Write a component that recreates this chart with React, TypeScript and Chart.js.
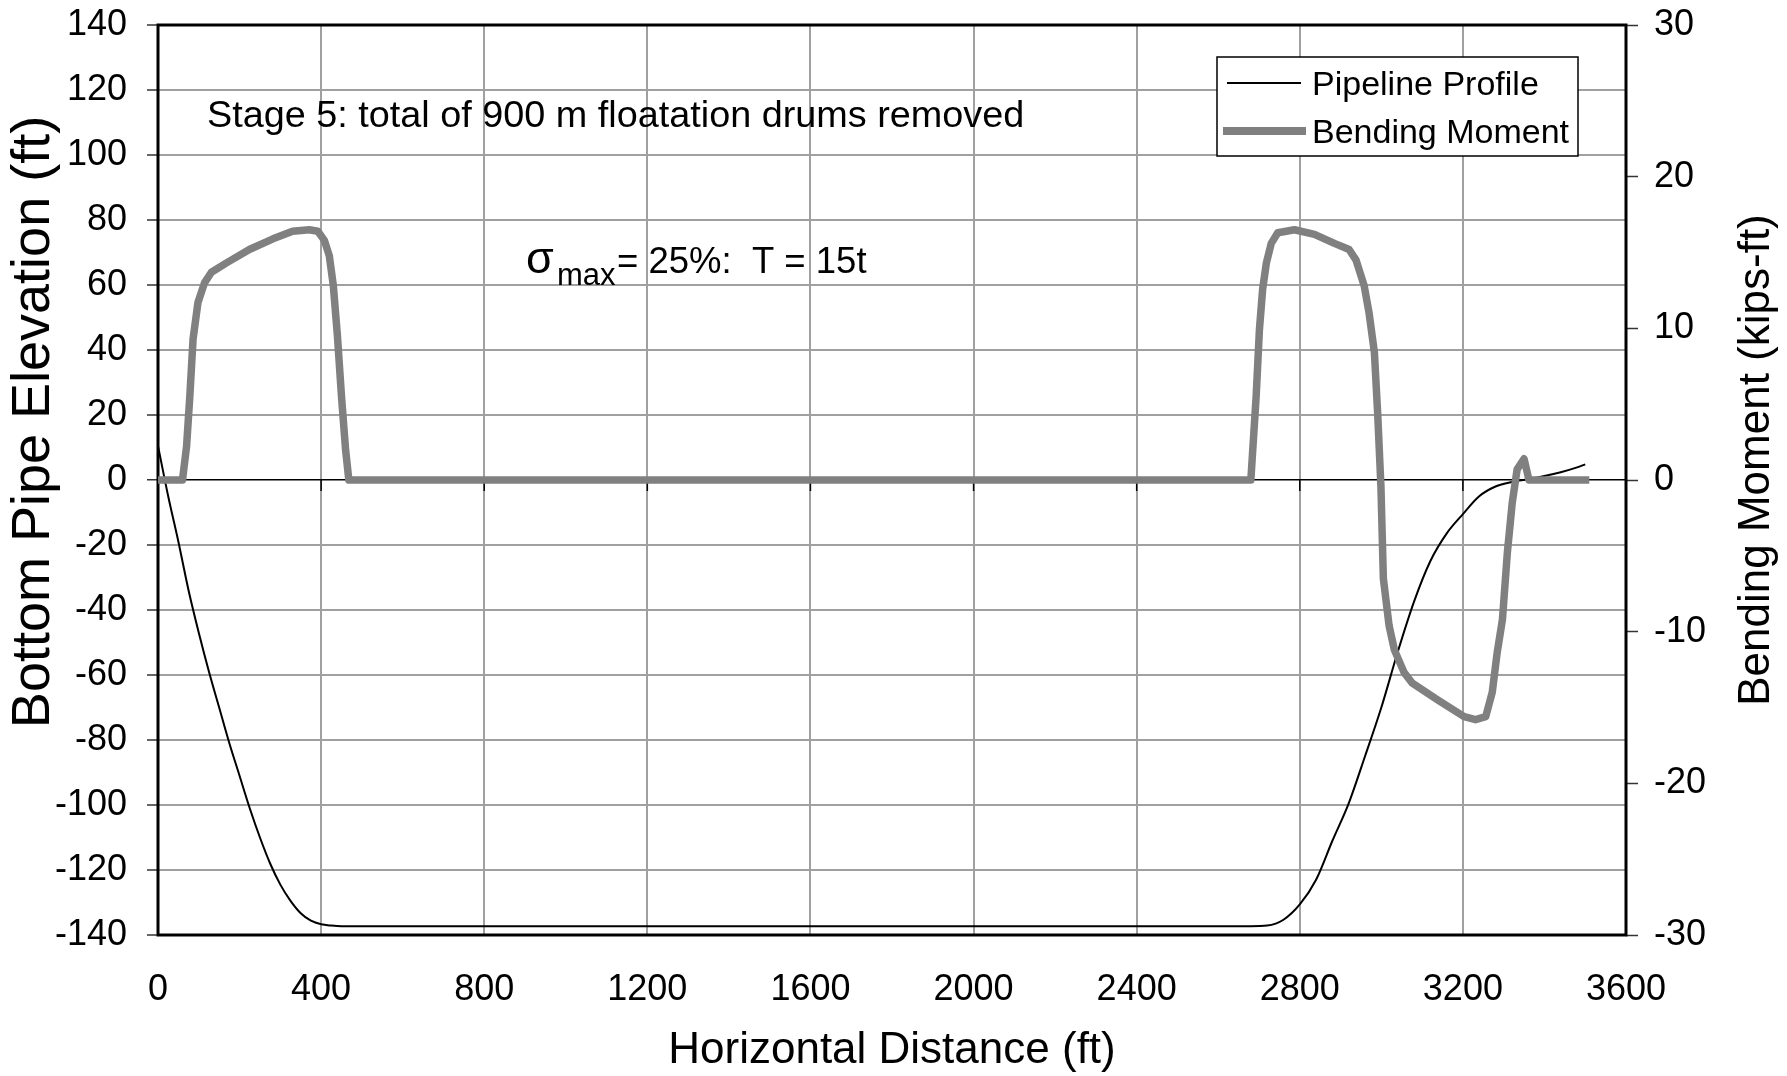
import React, { useEffect, useRef } from "react";
import { Chart, registerables } from "chart.js";

Chart.register(...registerables);

// ---- Data ----
const profileX = [0, 25, 50, 75, 100, 125, 150, 175, 200, 225, 250, 275, 300, 325, 350, 375, 400, 425, 450,
  2680, 2720, 2760, 2800, 2840, 2880, 2920, 2960, 3000, 3040, 3080, 3120, 3160, 3200, 3240, 3280, 3320, 3360, 3400, 3440, 3480, 3500];
const profileY = [10.5, -5, -19, -34, -47, -59, -70, -81, -91, -101, -110, -118, -124.5, -129.5, -133.3, -135.6, -136.7, -137.1, -137.3,
  -137.3, -137.1, -135.3, -130.6, -123, -111, -99.5, -85, -70, -53, -37.5, -25, -16.5, -10.5, -5, -2.0, -0.6, 0.2, 1.2, 2.4, 3.9, 4.8];

const momentX = [0, 60, 70, 78, 86, 98, 114, 131, 167, 224, 282, 330, 371, 392, 408, 420, 430, 440, 450, 460,
  468, 2680, 2693, 2701, 2709, 2718, 2730, 2746, 2787, 2836, 2885, 2921, 2938, 2958, 2970, 2983, 2991, 2999, 3005, 3019,
  3032, 3056, 3076, 3138, 3203, 3231, 3256, 3272, 3284, 3297, 3309, 3321, 3333, 3350, 3362, 3510];
const momentY = [0, 0, 2.2, 5.5, 9.3, 11.7, 13.0, 13.7, 14.3, 15.2, 15.9, 16.4, 16.5, 16.4, 15.8, 14.8, 12.8, 9.5, 5.5, 2,
  0, 0, 5.5, 9.9, 12.6, 14.3, 15.6, 16.3, 16.5, 16.2, 15.6, 15.2, 14.5, 12.8, 11.0, 8.4, 4.4, -0.4, -6.5, -9.6,
  -11.2, -12.7, -13.4, -14.5, -15.6, -15.8, -15.6, -14.0, -11.4, -9.2, -4.8, -1.5, 0.7, 1.4, 0, 0];

const xTickValues = [0, 400, 800, 1200, 1600, 2000, 2400, 2800, 3200, 3600];

const seriesNames = ["Pipeline Profile", "Bending Moment"];
const xTitle = "Horizontal Distance (ft)";
const yTitle = "Bottom Pipe Elevation (ft)";
const y1Title = "Bending Moment (kips-ft)";
const stageNote = "Stage 5: total of 900 m floatation drums removed";

const FONT = "'Liberation Sans', Arial, Helvetica, sans-serif";

export default function App() {
  const ref = useRef<HTMLCanvasElement | null>(null);

  useEffect(() => {
    document.body.style.margin = "0";
    const canvas = ref.current;
    if (!canvas) return;

    const overlay = {
      id: "overlay",
      beforeDatasetsDraw(chart: any) {
        const { ctx, chartArea: a, scales } = chart;
        ctx.save();
        const y0 = scales.y.getPixelForValue(0);
        ctx.strokeStyle = "#000";
        ctx.lineWidth = 1.5;
        for (const v of xTickValues) {
          if (v === 0 || v === 3600) continue;
          const x = scales.x.getPixelForValue(v);
          ctx.beginPath();
          ctx.moveTo(x, y0);
          ctx.lineTo(x, y0 + 11);
          ctx.stroke();
        }
        ctx.lineWidth = 3;
        ctx.strokeRect(a.left, a.top, a.right - a.left, a.bottom - a.top);
        ctx.restore();
      },
      afterDraw(chart: any) {
        const { ctx } = chart;
        const ds = chart.data.datasets;
        ctx.save();
        // legend
        ctx.fillStyle = "#fff";
        ctx.fillRect(1217, 57, 361, 99);
        ctx.strokeStyle = "#000";
        ctx.lineWidth = 1.5;
        ctx.strokeRect(1217, 57, 361, 99);
        ctx.lineCap = "butt";
        ctx.strokeStyle = ds[1].borderColor;
        ctx.lineWidth = ds[1].borderWidth;
        ctx.beginPath();
        ctx.moveTo(1227, 83);
        ctx.lineTo(1301, 83);
        ctx.stroke();
        ctx.strokeStyle = ds[0].borderColor;
        ctx.lineWidth = 8;
        ctx.beginPath();
        ctx.moveTo(1223, 131);
        ctx.lineTo(1306, 131);
        ctx.stroke();
        ctx.fillStyle = "#000";
        ctx.font = `34px ${FONT}`;
        ctx.textAlign = "left";
        ctx.textBaseline = "alphabetic";
        ctx.fillText(ds[1].label, 1312, 95);
        ctx.fillText(ds[0].label, 1312, 143);

        // annotations
        ctx.font = `37.8px ${FONT}`;
        ctx.fillText(stageNote, 207, 127);
        ctx.font = `45px ${FONT}`;
        ctx.fillText("σ", 526, 273);
        ctx.font = `31px ${FONT}`;
        ctx.fillText("max", 557, 285);
        ctx.font = `36.5px ${FONT}`;
        ctx.fillText("= 25%:  T = 15t", 617, 273);

        // axis titles
        ctx.textAlign = "center";
        ctx.textBaseline = "middle";
        ctx.font = `44px ${FONT}`;
        ctx.fillText(xTitle, 892, 1051);
        ctx.save();
        ctx.translate(1757, 460);
        ctx.rotate(-Math.PI / 2);
        ctx.fillText(y1Title, 0, 0);
        ctx.restore();
        ctx.save();
        ctx.font = `54px ${FONT}`;
        ctx.translate(34, 422);
        ctx.rotate(-Math.PI / 2);
        ctx.fillText(yTitle, 0, 0);
        ctx.restore();
        ctx.restore();
      },
    };

    const plainTick = (v: any) => String(v);

    const chart = new Chart(canvas, {
      type: "line",
      data: {
        datasets: [
          {
            label: seriesNames[1],
            data: momentX.map((x, i) => ({ x, y: momentY[i] })),
            yAxisID: "y1",
            borderColor: "#808080",
            backgroundColor: "#808080",
            borderWidth: 7.5,
            borderJoinStyle: "round",
            pointRadius: 0,
            tension: 0,
            fill: false,
            order: 0,
          },
          {
            label: seriesNames[0],
            data: profileX.map((x, i) => ({ x, y: profileY[i] })),
            yAxisID: "y",
            borderColor: "#000000",
            backgroundColor: "#000000",
            borderWidth: 2,
            pointRadius: 0,
            cubicInterpolationMode: "monotone",
            fill: false,
            order: 1,
          },
        ],
      },
      options: {
        responsive: false,
        animation: false,
        devicePixelRatio: 1,
        layout: { padding: { top: 25, left: 0, right: 0, bottom: 0 } },
        plugins: {
          legend: { display: false },
          title: { display: false },
          tooltip: { enabled: false },
        },
        scales: {
          x: {
            type: "linear",
            position: "bottom",
            min: 0,
            max: 3600,
            afterBuildTicks: (scale: any) => {
              scale.ticks = xTickValues.map((v) => ({ value: v }));
            },
            afterFit: (scale: any) => {
              scale.height = 141;
              scale.paddingLeft = 0;
              scale.paddingRight = 0;
            },
            grid: { color: "#a0a0a0", lineWidth: 2, drawTicks: false },
            border: { display: false },
            ticks: {
              color: "#000",
              font: { family: FONT, size: 36 },
              padding: 33,
              maxRotation: 0,
              autoSkip: false,
              callback: plainTick,
            },
          },
          y: {
            type: "linear",
            position: "left",
            min: -140,
            max: 140,
            afterFit: (scale: any) => {
              scale.width = 158;
              scale.paddingTop = 0;
              scale.paddingBottom = 0;
            },
            grid: {
              color: (c: any) => (c.tick && c.tick.value === 0 ? "#000" : "#a0a0a0"),
              lineWidth: (c: any) => (c.tick && c.tick.value === 0 ? 1.5 : 2),
              drawTicks: true,
              tickLength: 11,
              tickColor: "#333",
              tickWidth: 1.5,
            },
            border: { display: false },
            ticks: {
              stepSize: 20,
              color: "#000",
              font: { family: FONT, size: 36 },
              padding: 20,
              autoSkip: false,
              callback: plainTick,
            },
          },
          y1: {
            type: "linear",
            position: "right",
            min: -30,
            max: 30,
            afterFit: (scale: any) => {
              scale.width = 161;
              scale.paddingTop = 0;
              scale.paddingBottom = 0;
            },
            grid: {
              drawOnChartArea: false,
              drawTicks: true,
              tickLength: 12,
              tickColor: "#333",
              tickWidth: 1.5,
            },
            border: { display: false },
            ticks: {
              stepSize: 10,
              color: "#000",
              font: { family: FONT, size: 36 },
              padding: 16,
              autoSkip: false,
              callback: plainTick,
            },
          },
        },
      },
      plugins: [overlay],
    } as any);

    return () => chart.destroy();
  }, []);

  return (
    <div style={{ width: 1787, height: 1076 }}>
      <canvas ref={ref} width={1787} height={1076} style={{ display: "block" }} />
    </div>
  );
}
